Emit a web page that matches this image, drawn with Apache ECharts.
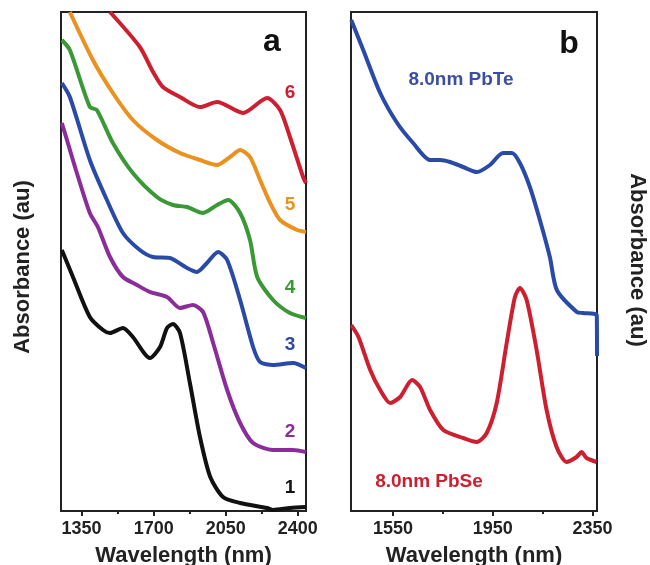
<!DOCTYPE html>
<html>
<head>
<meta charset="utf-8">
<script src="https://cdn.jsdelivr.net/npm/echarts@6/dist/echarts.min.js"></script>
<style>
  html, body { margin: 0; padding: 0; background: #fff; }
  #chart { width: 650px; height: 565px; }
</style>
</head>
<body>
<div id="chart"></div>
<script>
// panel a: wavelength (nm), absorbance (au, offset stacked)
const curve1 = [[1254,261],[1308,234],[1390,194],[1454,181],[1488,178],[1551,183],[1599,174],[1682,153],[1731,164],[1765,183],[1794,187],[1828,178],[1876,128],[1925,74],[1975,34],[2037,14],[2120,8],[2251,3],[2280,1],[2362,3],[2440,4]];
const curve2 = [[1254,388],[1279,371],[1327,338],[1390,298],[1429,284],[1488,254],[1551,234],[1619,226],[1682,219],[1765,214],[1828,203],[1891,206],[1940,199],[1989,168],[2057,121],[2120,88],[2183,68],[2280,61],[2377,61],[2440,59]];
const curve3 = [[1254,428],[1293,414],[1390,351],[1473,311],[1551,278],[1633,261],[1697,254],[1779,253],[1862,243],[1910,239],[1959,248],[2013,259],[2057,251],[2120,211],[2183,164],[2217,149],[2280,146],[2377,148],[2440,143]];
const curve4 = [[1254,471],[1293,461],[1390,404],[1424,401],[1502,368],[1599,338],[1716,314],[1794,306],[1862,304],[1940,298],[2008,306],[2062,311],[2120,298],[2168,271],[2203,234],[2280,211],[2362,198],[2440,193]];
const curve5 = [[1293,499],[1405,451],[1502,418],[1599,391],[1716,371],[1828,358],[1925,351],[2008,346],[2071,354],[2120,361],[2168,354],[2217,331],[2266,308],[2314,291],[2397,281],[2440,279]];
const curve6 = [[1488,499],[1633,464],[1697,439],[1745,424],[1828,414],[1925,404],[2008,409],[2134,398],[2251,413],[2314,401],[2362,374],[2426,334],[2440,328]];
// panel b
const pbte = [[1383,491],[1431,461],[1499,418],[1567,388],[1631,368],[1699,351],[1739,351],[1779,349],[1831,344],[1887,339],[1939,346],[1991,358],[2027,358],[2059,348],[2099,324],[2139,291],[2179,254],[2207,221],[2287,199],[2311,198],[2367,196],[2368,155]];
const pbse = [[1383,186],[1412,174],[1459,141],[1499,121],[1539,108],[1579,114],[1627,131],[1659,124],[1699,101],[1752,81],[1832,73],[1886,69],[1926,78],[1966,108],[2006,168],[2039,214],[2059,223],[2086,211],[2126,161],[2166,101],[2206,64],[2246,49],[2286,54],[2306,59],[2326,53],[2366,49]];

const ticksA = [1350, 1700, 2050, 2400];
const minorA = [1525, 1875, 2225];
const ticksB = [1550, 1950, 2350];
const minorB = [1750, 2150];

const colors = ['#111111', '#8a2c9a', '#2a4aa8', '#3a9935', '#ea921f', '#cc1f30'];
const curveLabels = ['1', '2', '3', '4', '5', '6'];
const labelY = [488, 432, 345, 288, 205, 93];

const font = 'Liberation Sans, Arial, sans-serif';

const chart = echarts.init(document.getElementById('chart'));

function xAx(gridIndex, min, max, ticks) {
  return {
    type: 'value', gridIndex, min, max, position: 'bottom',
    name: 'Wavelength (nm)', nameLocation: 'middle', nameGap: 34,
    nameTextStyle: { fontFamily: font, fontWeight: 'bold', fontSize: 22, color: '#222' },
    axisLine: { show: true, lineStyle: { color: '#222', width: 2 } },
    axisTick: { show: true, customValues: ticks, length: 5, lineStyle: { color: '#222', width: 2 } },
    axisLabel: {
      customValues: ticks, margin: 9, formatter: (v) => String(v),
      fontFamily: font, fontWeight: 'bold', fontSize: 18, color: '#222'
    },
    splitLine: { show: false }
  };
}
function minorAx(gridIndex, min, max, ticks) {
  return {
    type: 'value', gridIndex, min, max, position: 'bottom',
    axisLine: { show: false },
    axisTick: { show: true, customValues: ticks, length: 3, lineStyle: { color: '#222', width: 2 } },
    axisLabel: { show: false },
    splitLine: { show: false }
  };
}
function yAx(gridIndex) {
  return { type: 'value', gridIndex, min: 0, max: 499, show: false };
}
function line(name, data, color, xi, yi) {
  return {
    name, type: 'line', data, xAxisIndex: xi, yAxisIndex: yi,
    smooth: 0.25, showSymbol: false, clip: true,
    lineStyle: { color, width: 4 }
  };
}

const curves = [curve1, curve2, curve3, curve4, curve5, curve6];
const series = curves.map((c, i) => line('curve ' + curveLabels[i], c, colors[i], 0, 0));
series.push(line('8.0nm PbTe', pbte, '#2a4aa8', 1, 1));
series.push(line('8.0nm PbSe', pbse, '#cc1f30', 1, 1));

const graphic = curveLabels.map((t, i) => ({
  type: 'text', x: 290, y: labelY[i],
  style: { text: t, fill: colors[i], font: 'bold 19px ' + font, textAlign: 'center', textVerticalAlign: 'middle' }
}));
graphic.push(
  { type: 'text', x: 272, y: 42, style: { text: 'a', fill: '#111', font: 'bold 32px ' + font, textAlign: 'center', textVerticalAlign: 'middle' } },
  { type: 'text', x: 569, y: 44, style: { text: 'b', fill: '#111', font: 'bold 32px ' + font, textAlign: 'center', textVerticalAlign: 'middle' } },
  { type: 'text', x: 461, y: 80, style: { text: '8.0nm PbTe', fill: '#3a4ea3', font: 'bold 19px ' + font, textAlign: 'center', textVerticalAlign: 'middle' } },
  { type: 'text', x: 429, y: 482, style: { text: '8.0nm PbSe', fill: '#cc1f30', font: 'bold 19px ' + font, textAlign: 'center', textVerticalAlign: 'middle' } },
  { type: 'text', x: 23, y: 267, rotation: Math.PI / 2, style: { text: 'Absorbance (au)', fill: '#222', font: 'bold 22px ' + font, textAlign: 'center', textVerticalAlign: 'middle' } },
  { type: 'text', x: 637, y: 260, rotation: -Math.PI / 2, style: { text: 'Absorbance (au)', fill: '#222', font: 'bold 22px ' + font, textAlign: 'center', textVerticalAlign: 'middle' } }
);

const option = {
  animation: false,
  grid: [
    { left: 61, top: 12, width: 245, height: 499, show: true, borderColor: '#222', borderWidth: 2, backgroundColor: 'transparent', outerBoundsMode: 'none' },
    { left: 351, top: 12, width: 246, height: 499, show: true, borderColor: '#222', borderWidth: 2, backgroundColor: 'transparent', outerBoundsMode: 'none' }
  ],
  xAxis: [
    xAx(0, 1250, 2440, ticksA),
    xAx(1, 1382, 2368, ticksB),
    minorAx(0, 1250, 2440, minorA),
    minorAx(1, 1382, 2368, minorB)
  ],
  yAxis: [yAx(0), yAx(1)],
  series,
  graphic
};
chart.setOption(option);
</script>
</body>
</html>
